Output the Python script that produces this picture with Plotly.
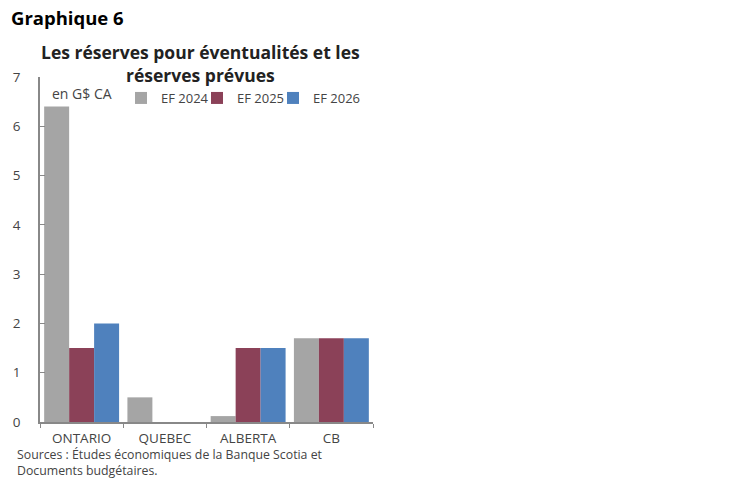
import plotly.graph_objects as go

categories = ["ONTARIO", "QUEBEC", "ALBERTA", "CB"]
ef2024 = [6.4, 0.5, 0.12, 1.7]
ef2025 = [1.5, 0.0, 1.5, 1.7]
ef2026 = [2.0, 0.0, 1.5, 1.7]
series_names = ["EF 2024", "EF 2025", "EF 2026"]
colors = ["#a5a5a5", "#8b4158", "#4f81bd"]
y_ticks = [0, 1, 2, 3, 4, 5, 6, 7]

fig = go.Figure()
for name, vals, c in zip(series_names, [ef2024, ef2025, ef2026], colors):
    fig.add_trace(go.Bar(x=categories, y=vals, name=name, marker=dict(color=c, line=dict(width=0))))
# empty legend spacer so the last legend label is not clipped
fig.add_trace(go.Scatter(x=[None], y=[None], mode="markers", name=" ",
                         marker=dict(color="rgba(0,0,0,0)", size=1, line=dict(width=0)),
                         hoverinfo="skip"))

# page body has an 8px margin; work in page pixels and convert
OFF = 8
W, H = 750 - OFF, 482 - OFF
L, R, T, B = 40 - OFF, 750 - 373, 77 - OFF, 482 - 422
PW, PH = W - L - R, H - T - B


def px(xabs):
    return (xabs - OFF - L) / PW


def py(yabs):
    return 1 - (yabs - OFF - T) / PH


fig.update_layout(
    width=W, height=H,
    margin=dict(l=L, r=R, t=T, b=B, autoexpand=False),
    paper_bgcolor="white", plot_bgcolor="white",
    barmode="group", bargap=0.1, bargroupgap=0,
    font=dict(family="Open Sans", size=12, color="#444444"),
    showlegend=True,
    legend=dict(orientation="h", xref="container", yref="container", x=(121 - OFF) / W,
                y=1 - (98 - OFF) / H, xanchor="left", yanchor="middle",
                font=dict(size=13, color="#444444"),
                bgcolor="rgba(0,0,0,0)", itemwidth=30, entrywidth=31, tracegroupgap=0),
    xaxis=dict(showline=True, linecolor="#888888", linewidth=1.5, ticks="outside", tickcolor="#888888",
               ticklen=4, showgrid=False, tickfont=dict(size=13.5, color="#444444"), tickson="boundaries",
               automargin=False, ticklabelstandoff=3),
    yaxis=dict(range=[0, 7], tickvals=y_ticks, showline=True, linecolor="#888888", linewidth=1.5,
               ticks="inside", tickcolor="#888888", ticklen=5, showgrid=False, zeroline=False,
               tickfont=dict(size=13.5, color="#444444"), automargin=False, ticklabelstandoff=15),
)

fig.add_annotation(text="<b>Graphique 6</b>", xref="paper", yref="paper", x=px(10),
                   y=py(18), xanchor="left", yanchor="middle", showarrow=False, borderpad=0,
                   font=dict(size=18.5, color="#000000"))
fig.add_annotation(text="<b>Les réserves pour éventualités et les<br>réserves prévues</b>", xref="paper",
                   yref="paper", x=px(200), y=py(63), xanchor="center", yanchor="middle",
                   showarrow=False, font=dict(size=17.5, color="#222222"))
fig.add_annotation(text="en G$ CA", xref="paper", yref="paper", x=px(50),
                   y=py(93), xanchor="left", yanchor="middle", showarrow=False,
                   font=dict(size=14, color="#444444"))
fig.add_annotation(text="Sources : Études économiques de la Banque Scotia et<br>Documents budgétaires.",
                   xref="paper", yref="paper", x=px(15), y=py(444),
                   xanchor="left", yanchor="top", align="left", showarrow=False,
                   font=dict(size=12.3, color="#444444"))

fig.write_html("out.html")
